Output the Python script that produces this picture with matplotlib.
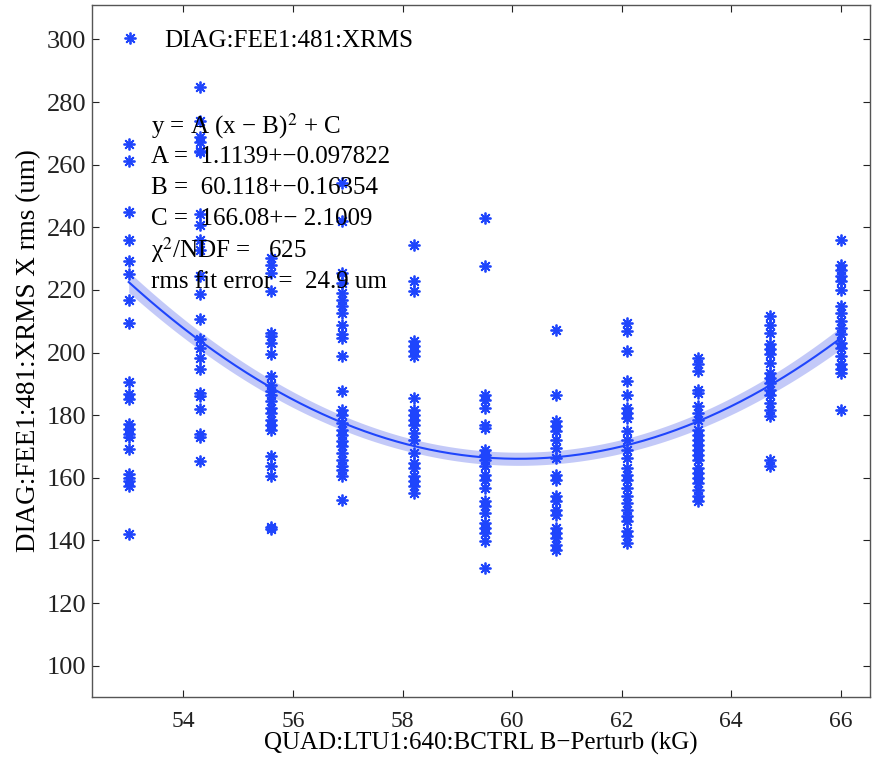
import numpy as np
import matplotlib
matplotlib.use("Agg")
import matplotlib.pyplot as plt

# quad setting (kG) for each group of measurements
x_steps = [53.0, 54.3, 55.6, 56.9, 58.2, 59.5, 60.8, 62.1, 63.4, 64.7, 66.0]

y_53_0 = [266.7, 261.3, 244.8, 235.8, 229.4, 225.1, 216.9, 209.6, 190.7, 186.7, 185.1,
          177.1, 175.5, 173.9, 172.9, 169.1, 161.1, 160.1, 159.0, 157.4, 142.0]
y_54_3 = [284.8, 274.1, 268.8, 267.2, 264.5, 264.0, 244.3, 240.6, 236.0, 232.6, 224.6,
          218.7, 210.7, 204.3, 201.6, 198.4, 194.7, 187.2, 186.2, 181.9, 173.9, 172.9, 165.4]
y_55_6 = [230.2, 228.1, 225.5, 219.6, 206.3, 205.2, 203.1, 199.4, 192.4, 189.8, 187.6,
          186.6, 184.4, 182.3, 180.7, 178.6, 177.0, 175.4, 166.9, 163.7, 160.5, 144.3, 143.5]
y_56_9 = [254.2, 242.0, 225.5, 222.3, 219.1, 216.9, 214.8, 212.7, 208.9, 205.8, 204.7,
          198.8, 187.6, 181.8, 180.2, 177.5, 175.4, 173.8, 171.7, 170.1, 168.0, 165.8,
          163.7, 162.6, 160.5, 153.0]
y_58_2 = [234.5, 222.8, 219.6, 203.6, 202.0, 200.4, 198.8, 185.5, 181.8, 180.2, 178.6,
          177.0, 174.3, 172.2, 168.0, 164.8, 163.2, 160.5, 158.9, 157.3, 155.2]
y_59_5 = [243.0, 227.6, 186.6, 185.0, 182.3, 177.0, 175.9, 169.0, 167.4, 165.8, 163.7,
          161.0, 159.4, 156.8, 152.5, 150.9, 148.8, 145.6, 144.0, 142.4, 139.7, 131.2]
y_60_8 = [207.3, 186.6, 178.1, 176.5, 174.9, 172.2, 169.6, 166.4, 161.0, 159.4, 154.1,
          152.5, 149.8, 148.2, 144.0, 142.4, 140.8, 138.7, 137.1]
y_62_1 = [209.5, 206.8, 200.4, 190.8, 186.6, 182.3, 180.7, 179.1, 174.9, 172.2, 169.0,
          166.4, 163.2, 161.0, 159.4, 156.8, 154.1, 152.0, 149.8, 147.7, 146.1, 142.9,
          141.3, 139.2]
y_63_4 = [198.3, 196.2, 194.0, 188.2, 187.1, 182.8, 180.7, 178.6, 175.4, 173.8, 172.2,
          170.6, 169.0, 167.4, 165.8, 163.2, 161.6, 160.0, 158.4, 156.2, 154.1, 152.5]
y_64_7 = [211.6, 208.9, 206.3, 202.6, 201.0, 199.4, 196.7, 193.5, 191.9, 190.3, 188.2,
          186.6, 183.9, 181.8, 179.6, 165.8, 163.7]
y_66_0 = [236.1, 228.1, 226.5, 224.4, 222.8, 220.1, 214.8, 212.7, 210.0, 207.9, 205.8,
          203.1, 201.5, 198.8, 196.2, 194.6, 193.5, 181.8]
y_groups = [y_53_0, y_54_3, y_55_6, y_56_9, y_58_2, y_59_5,
            y_60_8, y_62_1, y_63_4, y_64_7, y_66_0]

# fit result y = A (x - B)^2 + C as printed on the plot
fit_A, fit_dA = 1.1139, 0.097822
fit_B, fit_dB = 60.118, 0.16354
fit_C, fit_dC = 166.08, 2.1009
chi2_ndf = 625
rms_err = 24.9
# half width of the shaded fit band at each setting
band_half = [3.3, 2.9, 2.6, 2.3, 2.1, 2.1, 2.1, 2.2, 2.5, 2.9, 3.5]

blue = "#1f45fc"

plt.rcParams["font.family"] = ["Liberation Serif", "DejaVu Serif"]
plt.rcParams["mathtext.fontset"] = "stix"

fig = plt.figure(figsize=(8.72, 7.6), dpi=100)
ax = fig.add_axes([0.1055, 0.0829, 0.892, 0.9105])

xs = []
ys = []
for xv, grp in zip(x_steps, y_groups):
    xs += [xv] * len(grp)
    ys += grp
pts, = ax.plot(xs, ys, linestyle="none", marker=(8, 2, 0), markersize=8.5,
               markeredgewidth=1.3, color=blue, label="DIAG:FEE1:481:XRMS")

xf = np.linspace(x_steps[0], x_steps[-1], 200)
yf = fit_A * (xf - fit_B) ** 2 + fit_C
hw = np.interp(xf, x_steps, band_half)
ax.fill_between(xf, yf - hw, yf + hw, color="#b9c0f7", alpha=0.85, linewidth=0)
ax.plot(xf, yf, color=blue, linewidth=1.5)

ax.set_xlim(52.33, 66.53)
ax.set_ylim(90, 311)
ax.set_xticks(range(54, 67, 2))
ax.set_yticks(range(100, 301, 20))
ax.tick_params(direction="in", top=True, right=True, length=5, width=0.8,
               colors="#222222")
ax.tick_params(axis="y", pad=4, labelsize=19)
ax.tick_params(axis="x", pad=10, labelsize=17)
for s in ax.spines.values():
    s.set_color("#555555")
    s.set_linewidth(1.0)

ax.set_xlabel("QUAD:LTU1:640:BCTRL B\u2212Perturb (kG)", fontsize=18, labelpad=0)
ax.set_ylabel("DIAG:FEE1:481:XRMS X rms (um)", fontsize=19.5, labelpad=4)

lines = [
    "y = A (x \u2212 B)$^{2}$ + C",
    "A =  %.4f+\u2212%.6f" % (fit_A, fit_dA),
    "B =  %.3f+\u2212%.5f" % (fit_B, fit_dB),
    "C =  %.2f+\u2212 %.4f" % (fit_C, fit_dC),
    "\u03c7$^{2}$/NDF =   %d" % chi2_ndf,
    "rms fit error =  %.1f um" % rms_err,
]
line_y = [272.2, 262.6, 252.7, 242.8, 232.9, 222.4]
for t, yy in zip(lines, line_y):
    ax.text(53.4, yy, t, fontsize=18, va="center", ha="left", color="black")

ax.legend(handles=[pts], loc="center left", bbox_to_anchor=(0.03, 0.949),
          frameon=False, fontsize=18, handlelength=1.2, handletextpad=0.75,
          borderaxespad=0, borderpad=0)

fig.savefig("out.png", dpi=100)
